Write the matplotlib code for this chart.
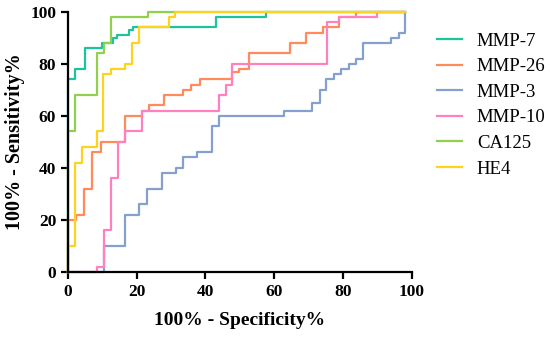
import numpy as np
import matplotlib.pyplot as plt

# ROC step points (100% - specificity, sensitivity)
mmp7_fpr = [0, 0, 2, 5, 10, 13, 14.3, 17.7, 19, 43, 57.5, 98.2]
mmp7_tpr = [0, 74, 78, 86, 88, 90, 91, 93, 94, 98, 100, 100]

mmp26_fpr = [0, 0, 2.3, 4.7, 7.1, 9.5, 16.7, 21.4, 23.7, 28, 33.4, 35.8, 38.5,
             47.7, 49.7, 52.6, 64.5, 69.3, 74.2, 79, 83.7, 98.2]
mmp26_tpr = [0, 20, 22, 32, 46, 50, 60, 62, 64, 68, 70, 72, 74,
             77, 78, 84, 88, 92, 94, 98, 100, 100]

mmp3_fpr = [0, 10.4, 16.7, 20.8, 23, 27.3, 31.5, 33.4, 37.7, 41.9, 44.1, 62.8,
            71, 73.3, 75.2, 77.4, 79.5, 81.7, 83.7, 85.9, 94.1, 96.3, 98.2]
mmp3_tpr = [0, 10, 22, 26, 32, 38, 40, 44, 46, 56, 60, 62,
            65, 70, 74, 76, 78, 80, 82, 88, 90, 92, 100]

mmp10_fpr = [0, 8.5, 10.4, 12.6, 14.7, 16.7, 21.6, 44, 46, 47.7, 75.4, 78.8, 90, 98.2]
mmp10_tpr = [0, 2, 16, 36, 50, 54, 62, 68, 72, 80, 96, 98, 100, 100]

ca125_fpr = [0, 0, 2, 8.5, 10.4, 12.6, 23.2, 98.2]
ca125_tpr = [0, 54, 68, 84, 88, 98, 100, 100]

he4_fpr = [0, 0, 2, 4, 8.3, 10.3, 12.5, 16.6, 18.7, 20.8, 29.3, 31.2, 98.2]
he4_tpr = [0, 10, 42, 48, 54, 76, 78, 80, 88, 94, 98, 100, 100]

series = [
    ("MMP-7", mmp7_fpr, mmp7_tpr, "#1dc39c"),
    ("MMP-26", mmp26_fpr, mmp26_tpr, "#ff8a5c"),
    ("MMP-3", mmp3_fpr, mmp3_tpr, "#84a0cf"),
    ("MMP-10", mmp10_fpr, mmp10_tpr, "#ff80bf"),
    ("CA125", ca125_fpr, ca125_tpr, "#8fd14f"),
    ("HE4", he4_fpr, he4_tpr, "#ffd21e"),
]

plt.rcParams['font.family'] = ['Liberation Serif', 'DejaVu Serif']

fig = plt.figure(figsize=(5.5, 3.49), dpi=100)
ax = fig.add_axes([68/550, 1 - 272/349, (411.5 - 68)/550, (272 - 11.7)/349])

for name, fpr, tpr, col in series:
    ax.plot(fpr, tpr, drawstyle='steps-post', color=col, lw=1.6,
            label=name, clip_on=False)

ax.set_xlim(0, 100)
ax.set_ylim(0, 100)
ax.set_xticks(np.arange(0, 101, 20))
ax.set_yticks(np.arange(0, 101, 20))
for s in ['top', 'right']:
    ax.spines[s].set_visible(False)
for s in ['left', 'bottom']:
    ax.spines[s].set_linewidth(1.6)
ax.tick_params(direction='out', length=5, width=1.6, labelsize=12.5)
for lab in ax.get_xticklabels() + ax.get_yticklabels():
    lab.set_fontweight('bold')

ax.set_xlabel('100% - Specificity%', fontsize=14, fontweight='bold', labelpad=9)
ax.set_ylabel('100% - Sensitivity%', fontsize=14.5, fontweight='bold', labelpad=4)

fig.legend(loc='upper left', bbox_to_anchor=(431/550, 1 - 27/349), frameon=False,
           fontsize=13.5, handlelength=1.35, handletextpad=0.8, labelspacing=0.45,
           borderaxespad=0, borderpad=0.3)

fig.savefig('out.png', dpi=100)
